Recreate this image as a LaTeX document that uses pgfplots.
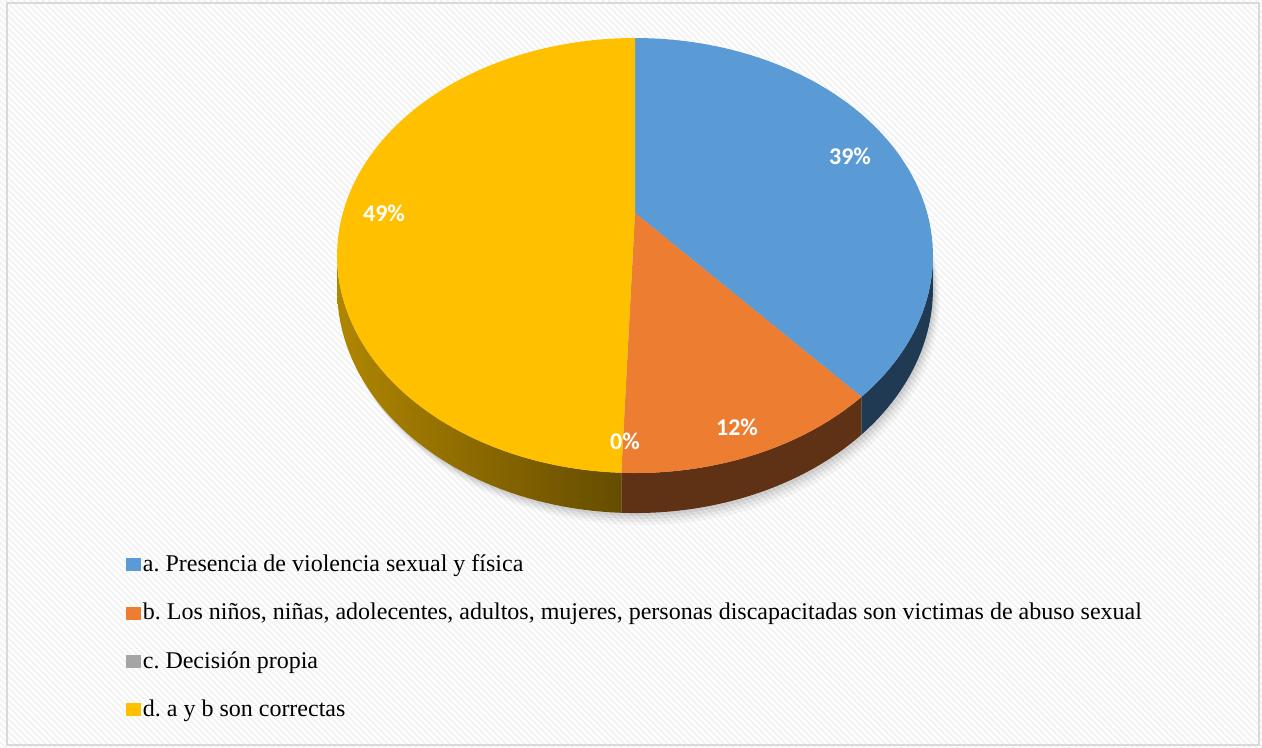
\documentclass[border=0pt]{standalone}
\usepackage{fontspec}
\setmainfont{Liberation Serif}
\newfontfamily\carlito{Carlito}
\usepackage{pgfplots}
\pgfplotsset{compat=1.18}
\usetikzlibrary{patterns.meta}
\frenchspacing
\definecolor{cA}{HTML}{5B9BD5}
\definecolor{cB}{HTML}{ED7D31}
\definecolor{cC}{HTML}{A5A5A5}
\definecolor{cD}{HTML}{FFC000}
\definecolor{wA}{HTML}{203A54}
\definecolor{wB}{HTML}{5F3115}
\definecolor{wDL}{HTML}{B08600}
\definecolor{wDR}{HTML}{654C00}
\definecolor{frame}{HTML}{D9D9D9}
% data (percent)
\def\vA{38.5}
\def\vB{12.1}
\def\vC{0.0}
\def\vD{49.4}
\pgfmathsetmacro{\tA}{90}
\pgfmathsetmacro{\tB}{90-3.6*\vA}
\pgfmathsetmacro{\tC}{\tB-3.6*\vB}
\pgfmathsetmacro{\tD}{\tC-3.6*\vC}
\pgfmathsetmacro{\tE}{\tD-3.6*\vD}
\begin{document}
\frenchspacing
\begin{tikzpicture}
\fill[white] (0,0) rectangle (631pt,374pt);
\fill[pattern={Lines[angle=-45,distance=2.2pt,line width=0.9pt]},pattern color=black!5] (0,0) rectangle (631pt,374pt);
\draw[frame,line width=1pt] (3.3pt,1.5pt) rectangle (629.7pt,372.4pt);
\begin{axis}[
  scale only axis, width=631pt, height=374pt,
  xmin=0, xmax=1262, ymin=0, ymax=748, y dir=reverse,
  axis lines=none, clip=false,
  declare function={
    ww(\t)=1+0.1955*sin(\t);
    px(\t)=635+292.2*cos(\t)/ww(\t);
    py(\t)=213-209.2*sin(\t)/ww(\t);
    dp(\t)=32.2/ww(\t);
    tt(\s,\a,\b)=\a+(\b-\a)*min(\s,2.02-\s);
  },
  legend style={at={(axis description cs:0.0995,0.262)}, anchor=north west,
    draw=none, fill=none, row sep=11.9pt, inner sep=0pt,
    font=\rmfamily\fontsize{12}{14}\selectfont, nodes={inner sep=1.2pt}},
  legend cell align=left,
]
% shadow
\addplot[fill=black, fill opacity=0.03, draw=none, domain=0:360, samples=90, forget plot]
  ({px(x)+7}, {py(x)+dp(x)+12});
\addplot[fill=black, fill opacity=0.04, draw=none, domain=0:360, samples=90, forget plot]
  ({px(x)+5}, {py(x)+dp(x)+9});
\addplot[fill=black, fill opacity=0.05, draw=none, domain=0:360, samples=90, forget plot]
  ({px(x)+3.5}, {py(x)+dp(x)+6});
\addplot[fill=black, fill opacity=0.06, draw=none, domain=0:360, samples=90, forget plot]
  ({px(x)+2}, {py(x)+dp(x)+3});
% side walls
\addplot[draw=none, fill=wA, domain=0:2.02, samples=102, forget plot]
  ({px(tt(x,-11.27,\tB))}, {py(tt(x,-11.27,\tB))+(x>1.01)*dp(tt(x,-11.27,\tB))});
\addplot[draw=none, fill=wB, domain=0:2.02, samples=102, forget plot]
  ({px(tt(x,\tB,\tD))}, {py(tt(x,\tB,\tD))+(x>1.01)*dp(tt(x,\tB,\tD))});
\addplot[draw=none, left color=wDL, right color=wDR, domain=0:2.02, samples=102, forget plot]
  ({px(tt(x,-168.73,\tD))}, {py(tt(x,-168.73,\tD))+(x>1.01)*dp(tt(x,-168.73,\tD))});
% top slices
\addplot[fill=cA, draw=none, domain=\tB:\tA, samples=80, forget plot]
  ({px(x)}, {py(x)}) -- (axis cs:635,213) -- cycle;
\addplot[fill=cB, draw=none, domain=\tC:\tB, samples=40, forget plot]
  ({px(x)}, {py(x)}) -- (axis cs:635,213) -- cycle;
\addplot[fill=cD, draw=none, domain=\tE:\tD, samples=100, forget plot]
  ({px(x)}, {py(x)}) -- (axis cs:635,213) -- cycle;
% labels
\node[text=white, font=\carlito\bfseries\fontsize{12}{14}\selectfont] at (axis cs:850,156) {39\%};
\node[text=white, font=\carlito\bfseries\fontsize{12}{14}\selectfont] at (axis cs:384,213) {49\%};
\node[text=white, font=\carlito\bfseries\fontsize{12}{14}\selectfont] at (axis cs:737,427) {12\%};
\node[text=white, font=\carlito\bfseries\fontsize{12}{14}\selectfont] at (axis cs:625,441) {0\%};
% legend
\addlegendimage{legend image code/.code={\fill[cA] (0pt,-3pt) rectangle (6.85pt,3pt);}}
\addlegendentry{a. Presencia de violencia sexual y física}
\addlegendimage{legend image code/.code={\fill[cB] (0pt,-3pt) rectangle (6.85pt,3pt);}}
\addlegendentry{b. Los niños, niñas, adolecentes, adultos, mujeres, personas discapacitadas son victimas de abuso sexual}
\addlegendimage{legend image code/.code={\fill[cC] (0pt,-3pt) rectangle (6.85pt,3pt);}}
\addlegendentry{c. Decisión propia}
\addlegendimage{legend image code/.code={\fill[cD] (0pt,-3pt) rectangle (6.85pt,3pt);}}
\addlegendentry{d. a y b son correctas}
\end{axis}
\end{tikzpicture}
\end{document}
